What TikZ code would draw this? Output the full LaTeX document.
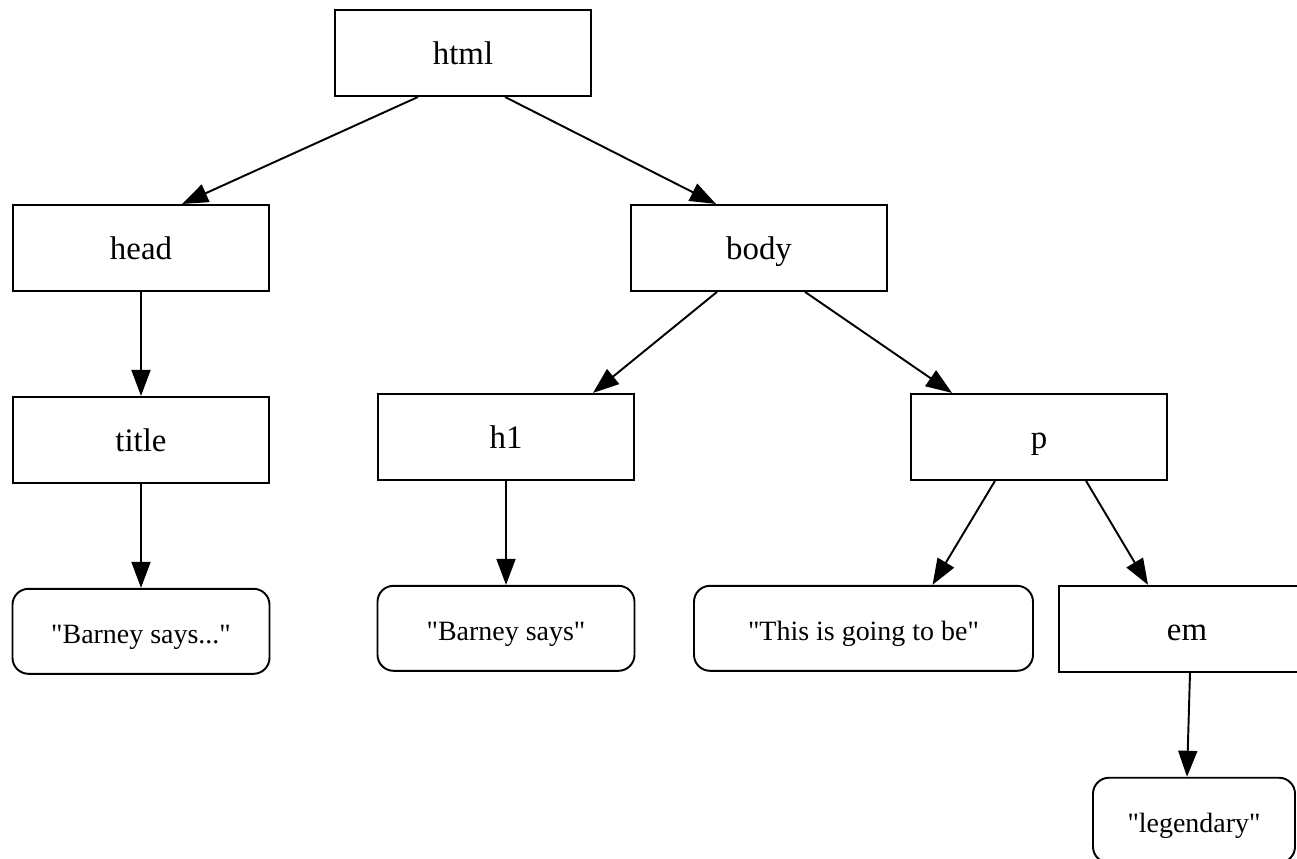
\documentclass[tikz,border=0pt]{standalone}
\usepackage{fontspec}
\setmainfont{Liberation Serif}[Ligatures=TeXOff]
\usepackage{tikz}
\usetikzlibrary{positioning, arrows.meta}
\tikzstyle{tag}=[%
      rectangle, draw=black, line width=1.1pt, fill=none,
      minimum height=1.72cm, minimum width=5.12cm, inner sep=0pt,
      text height=16.8pt, text depth=3.7pt,
      font=\fontsize{18.7}{22}\selectfont
]
\tikzstyle{str}=[%
      rectangle, rounded corners=0.32cm, draw=black, line width=1.1pt, fill=none,
      minimum height=1.7cm, minimum width=5.14cm, inner sep=0pt,
      text height=17.3pt, text depth=3.2pt,
      font=\fontsize{15.9}{19}\selectfont
]
\begin{document}
\begin{tikzpicture}[auto,
    node distance=2.08cm and 0cm,
    line width=1.1pt,
    -{Triangle[length=0.52cm,width=0.38cm]}
  ]
    \useasboundingbox (0,0) rectangle (25.94,-17.16);
    \node[tag] (html)                                   at (9.26,-1.06) {html};
    \node[tag] (head)    [below = 2.14cm of html, xshift=-6.44cm]  {head};
    \node[tag] (body)    [below = 2.14cm of html, xshift=5.92cm]   {body};
    \node[tag] (title)   [below = of head]                  {title};
    \node[tag] (h1)      [below = 2.02cm of body, xshift=-5.06cm]  {h1};
    \node[tag] (p)       [below = 2.02cm of body, xshift=5.6cm]    {p};
    \node[str] (says1)   [below = of title]                 {"Barney says..."};
    \node[str] (says2)   [below = of h1]                    {"Barney says"};
    \node[str, minimum width=6.78cm] (going) [below = of p, xshift=-3.51cm] {"This is going to be"};
    \node[tag] (em)      [below = of p, xshift=2.96cm]      {em};
    \node[str, minimum width=4.04cm] (legend) [below = of em, xshift=0.14cm] {"legendary"};

    \path ([xshift=-0.9cm]html.south) edge ([xshift=0.82cm]head.north)
          ([xshift=0.84cm]html.south) edge ([xshift=-0.86cm]body.north)
          (head) edge (title)
          (title) edge (says1)
          ([xshift=-0.84cm]body.south) edge ([xshift=1.74cm]h1.north)
          ([xshift=0.92cm]body.south) edge ([xshift=-1.74cm]p.north)
          (h1) edge (says2)
          ([xshift=-0.88cm]p.south) edge ([xshift=1.38cm]going.north)
          ([xshift=0.94cm]p.south) edge ([xshift=-0.78cm]em.north)
          ([xshift=0.06cm]em.south) edge ([xshift=-0.14cm]legend.north)
    ;
\end{tikzpicture}
\end{document}
